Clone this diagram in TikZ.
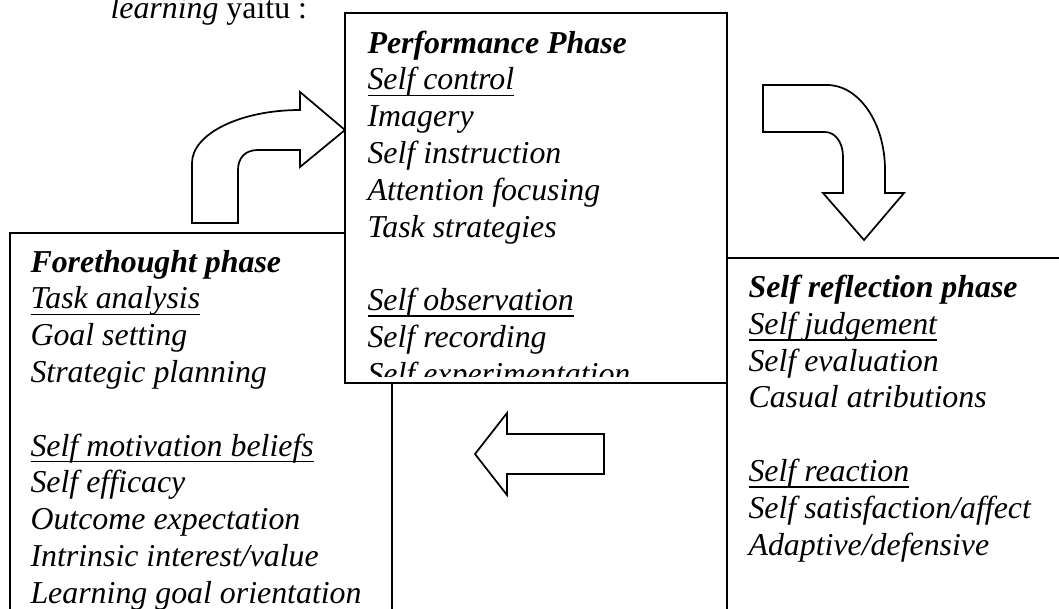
\documentclass[tikz,border=0pt]{standalone}
\usepackage{fontspec}
\setmainfont{Liberation Serif}
\newcommand\mysubhead[1]{\setbox0\hbox{#1}\rlap{\rule[-2.4pt]{\wd0}{0.6pt}}\box0}
\begin{document}
\begin{tikzpicture}[x=0.3766pt,y=-0.3766pt,
  box/.style={draw, line width=0.8pt, fill=white},
  bigarrow/.style={draw, line width=0.65pt, fill=white, line join=miter},
  txt/.style={anchor=base west, inner sep=0pt, font=\fontsize{12}{13.8}\selectfont\itshape},
  hd/.style={anchor=base west, inner sep=0pt, font=\fontsize{12}{13.8}\selectfont\bfseries\itshape}]
\useasboundingbox (0,0) rectangle (1059,608);
\clip (0,0) rectangle (1059,608);
\fill[white] (0,0) rectangle (1059,608);

% intro text
\node[anchor=base west, inner sep=0pt, font=\fontsize{12}{13.8}\selectfont] (intro) at (110,18) {\textit{learning} yaitu :};

% boxes
\draw[box] (10,233) rectangle (392,650);
\draw[box] (727,258) rectangle (1100,650);
\draw[box] (345,13) rectangle (727,383);

% curved arrow up-right
\draw[bigarrow] (192,223) -- (192,163)
  .. controls (192,134) and (240,110) .. (300,110)
  -- (300,92) -- (345,130) -- (300,167) -- (300,150) -- (258,150)
  .. controls (245,150) and (238,158) .. (238,170)
  -- (238,223) -- cycle;

% curved arrow right-down
\draw[bigarrow] (763,85) -- (827,85)
  .. controls (859,85) and (885,123) .. (885,170)
  -- (885,193) -- (904,193) -- (864,240) -- (823,193) -- (843,193) -- (843,157)
  .. controls (843,142) and (835,132) .. (825,132)
  -- (763,132) -- cycle;

% left arrow
\draw[bigarrow] (604,434) -- (507,434) -- (507,413) -- (475,454) -- (507,495) -- (507,474) -- (604,474) -- cycle;

% performance phase text
\begin{scope}
\clip (345,13) rectangle (727,376);
\node[hd]  (p0) at (367,53.0)  {Performance Phase};
\node[txt] (p1) at (367,89.8)  {\mysubhead{Self control}};
\node[txt] (p2) at (367,126.6) {Imagery};
\node[txt] (p3) at (367,163.4) {Self instruction};
\node[txt] (p4) at (367,200.2) {Attention focusing};
\node[txt] (p5) at (367,237.0) {Task strategies};
\node[txt] (p6) at (367,310.6) {\mysubhead{Self observation}};
\node[txt] (p7) at (367,347.4) {Self recording};
\node[txt] (p8) at (367,384.2) {Self experimentation};
\end{scope}

% forethought phase text
\node[hd]  (f0) at (30,272.0) {Forethought phase};
\node[txt] (f1) at (30,308.8) {\mysubhead{Task analysis}};
\node[txt] (f2) at (30,345.6) {Goal setting};
\node[txt] (f3) at (30,382.4) {Strategic planning};
\node[txt] (f4) at (30,456.0) {\mysubhead{Self motivation beliefs}};
\node[txt] (f5) at (30,492.8) {Self efficacy};
\node[txt] (f6) at (30,529.6) {Outcome expectation};
\node[txt] (f7) at (30,566.4) {Intrinsic interest/value};
\node[txt] (f8) at (30,603.2) {Learning goal orientation};

% self reflection phase text
\node[hd]  (r0) at (748,297.5) {Self reflection phase};
\node[txt] (r1) at (748,334.3) {\mysubhead{Self judgement}};
\node[txt] (r2) at (748,371.1) {Self evaluation};
\node[txt] (r3) at (748,407.9) {Casual atributions};
\node[txt] (r4) at (748,481.5) {\mysubhead{Self reaction}};
\node[txt] (r5) at (748,518.3) {Self satisfaction/affect};
\node[txt] (r6) at (748,555.1) {Adaptive/defensive};
\end{tikzpicture}
\end{document}
